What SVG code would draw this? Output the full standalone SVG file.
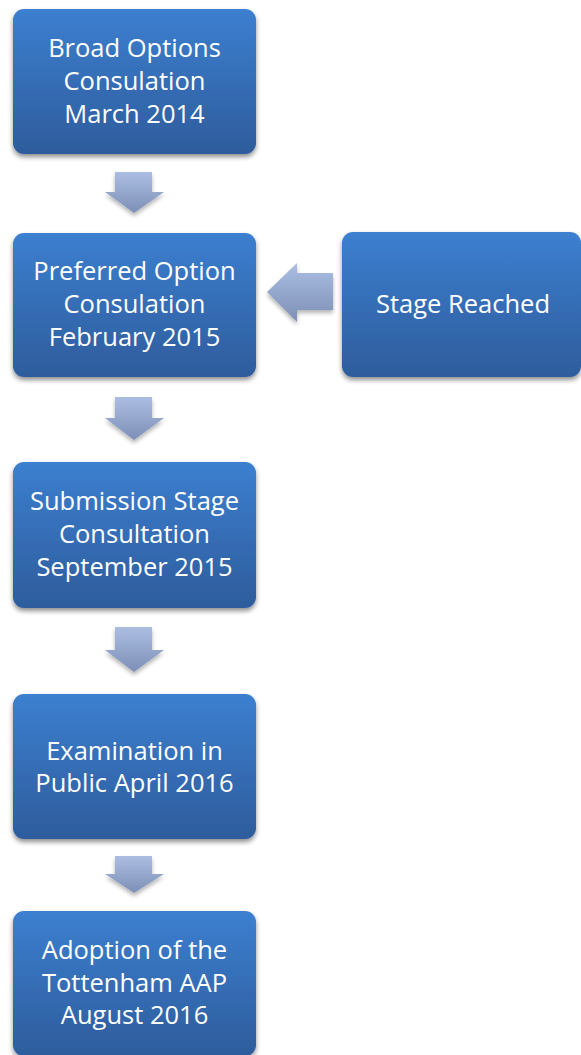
<svg xmlns="http://www.w3.org/2000/svg" width="581" height="1055" viewBox="0 0 581 1055">
<defs>
<linearGradient id="boxGrad" x1="0" y1="0" x2="0" y2="1">
<stop offset="0" stop-color="#3c7fd0"/>
<stop offset="1" stop-color="#2e5c9c"/>
</linearGradient>
<linearGradient id="arrGradV" x1="0" y1="0" x2="0" y2="1">
<stop offset="0" stop-color="#abbee2"/>
<stop offset="1" stop-color="#7d8fb6"/>
</linearGradient>
<filter id="shadow" x="-10%" y="-10%" width="120%" height="130%">
<feGaussianBlur in="SourceAlpha" stdDeviation="2.5"/>
<feOffset dx="0" dy="3" result="b"/>
<feComponentTransfer><feFuncA type="linear" slope="0.45"/></feComponentTransfer>
<feMerge><feMergeNode/><feMergeNode in="SourceGraphic"/></feMerge>
</filter>
<filter id="ashadow" x="-20%" y="-20%" width="140%" height="150%">
<feGaussianBlur in="SourceAlpha" stdDeviation="2"/>
<feOffset dx="0" dy="3" result="b"/>
<feComponentTransfer><feFuncA type="linear" slope="0.3"/></feComponentTransfer>
<feMerge><feMergeNode/><feMergeNode in="SourceGraphic"/></feMerge>
</filter>
</defs>
<style>
.box{fill:url(#boxGrad);filter:url(#shadow);}
.arr{fill:url(#arrGradV);filter:url(#ashadow);}
.t{font-family:"Open Sans","Liberation Sans",sans-serif;font-size:25.5px;fill:#ffffff;text-anchor:middle;}
</style>
<rect width="581" height="1055" fill="#ffffff"/>
<g id="connectors">
<polygon class="arr" points="115,172 152,172 152,192 164,192 134,213 105,192 115,192"/>
<polygon class="arr" points="115,397 152,397 152,418 164,418 134,440 105,418 115,418"/>
<polygon class="arr" points="115,627 152,627 152,650 164,650 134,672 105,650 115,650"/>
<polygon class="arr" points="115,856 152,856 152,874 164,874 134,893 105,874 115,874"/>
<polygon class="arr" points="333,273 333,310 297,310 297,322 267,292 297,263 297,273"/>
</g>
<g id="node1">
<rect class="box" x="13" y="9" width="243" height="145" rx="11"/>
<text class="t" x="134.5" y="57">Broad Options</text>
<text class="t" x="134.5" y="90">Consulation</text>
<text class="t" x="134.5" y="123">March 2014</text>
</g>
<g id="node2">
<rect class="box" x="13" y="233" width="243" height="144" rx="11"/>
<text class="t" x="134.5" y="280">Preferred Option</text>
<text class="t" x="134.5" y="313">Consulation</text>
<text class="t" x="134.5" y="346">February 2015</text>
</g>
<g id="node3">
<rect class="box" x="13" y="462" width="243" height="146" rx="11"/>
<text class="t" x="134.5" y="510">Submission Stage</text>
<text class="t" x="134.5" y="543">Consultation</text>
<text class="t" x="134.5" y="576">September 2015</text>
</g>
<g id="node4">
<rect class="box" x="13" y="694" width="243" height="145" rx="11"/>
<text class="t" x="134.5" y="760">Examination in</text>
<text class="t" x="134.5" y="792">Public April 2016</text>
</g>
<g id="node5">
<rect class="box" x="13" y="911" width="243" height="145" rx="11"/>
<text class="t" x="134.5" y="959">Adoption of the</text>
<text class="t" x="134.5" y="992">Tottenham AAP</text>
<text class="t" x="134.5" y="1024">August 2016</text>
</g>
<g id="node6">
<rect class="box" x="342" y="232" width="239" height="145" rx="11"/>
<text class="t" x="463" y="313">Stage Reached</text>
</g>
</svg>
